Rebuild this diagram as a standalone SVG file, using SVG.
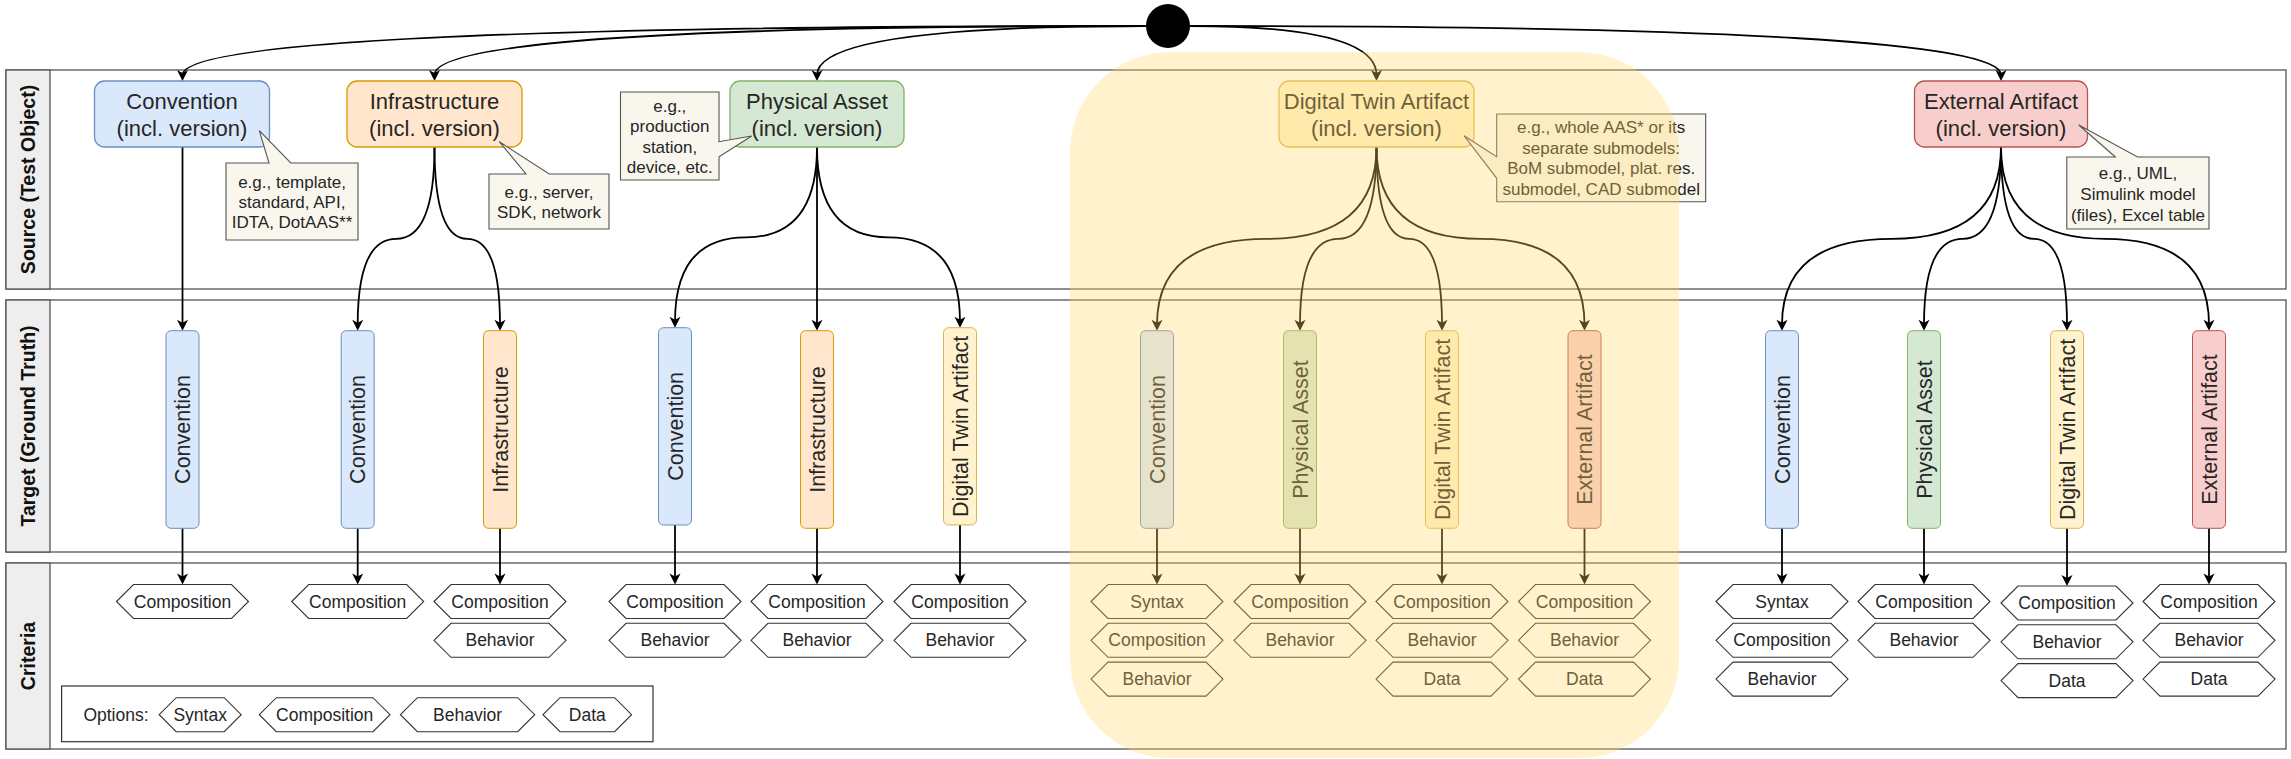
<svg xmlns="http://www.w3.org/2000/svg" xmlns:xlink="http://www.w3.org/1999/xlink" width="2291" height="759" viewBox="0 0 2291 759">
<style>
text{font-family:"Liberation Sans",Arial,Helvetica,sans-serif;fill:#262626}
.lane{fill:none;stroke:#555;stroke-width:1.3}
.hdr{fill:#eeeeee;stroke:#555;stroke-width:1.3}
.ht{font-size:19.5px;font-weight:bold;text-anchor:middle;fill:#111}
.src{stroke-width:1.3}
.st{font-size:22px;text-anchor:middle}
.vt{font-size:21.5px;text-anchor:middle}
.cv{fill:#dae8fc;stroke:#6c8ebf}
.inf{fill:#ffe6cc;stroke:#d79b00}
.pa{fill:#d5e8d4;stroke:#82b366}
.dt{fill:#fff2cc;stroke:#d6b656}
.ea{fill:#f8cecc;stroke:#b85450}
.hex{fill:#ffffff;stroke:#333;stroke-width:1.1}
.cr{font-size:17.5px;text-anchor:middle}
.call{fill:#f9f7ed;stroke:#555;stroke-width:1.1}
.ct{font-size:17px;text-anchor:middle}
.e{fill:none;stroke:#000;stroke-width:1.8;marker-end:url(#arr)}
</style>
<defs>
<marker id="arr" markerUnits="userSpaceOnUse" markerWidth="13" markerHeight="13" viewBox="0 0 13 13" refX="6" refY="6.5" orient="auto">
<path d="M1,1 L12,6.5 L1,12 L4,6.5 Z" fill="#000"/>
</marker>
<polygon id="hx" points="-66,0 -49,-17 49,-17 66,0 49,17 -49,17"/>
</defs>

<g id="lanes">
<rect class="lane" x="6" y="70" width="2280" height="219"/>
<rect class="hdr" x="6" y="70" width="44" height="219"/>
<text class="ht" transform="translate(28,179.5) rotate(-90)" dy="0.35em">Source (Test Object)</text>
<rect class="lane" x="6" y="300" width="2280" height="252"/>
<rect class="hdr" x="6" y="300" width="44" height="252"/>
<text class="ht" transform="translate(28,426) rotate(-90)" dy="0.35em">Target (Ground Truth)</text>
<rect class="lane" x="6" y="563" width="2280" height="186"/>
<rect class="hdr" x="6" y="563" width="44" height="186"/>
<text class="ht" transform="translate(28,656) rotate(-90)" dy="0.35em">Criteria</text>
</g>

<g id="connectors">
<path class="e" d="M1146,26 Q182.5,26 182.5,75"/>
<path class="e" d="M1146,26 Q434.5,26 434.5,75"/>
<path class="e" d="M1146,26 Q817,26 817,75"/>
<path class="e" d="M1190,26 Q1376.5,26 1376.5,75"/>
<path class="e" d="M1190,26 Q2001,26 2001,75"/>

<path class="e" d="M182.5,147 L182.5,324.7"/>
<path class="e" d="M434.5,147 Q434.5,238.85 396.1,238.85 Q357.7,238.85 357.7,324.7"/>
<path class="e" d="M434.5,147 Q434.5,238.85 467.25,238.85 Q500,238.85 500,324.7"/>
<path class="e" d="M817,147 Q817,237.35 746,237.35 Q675,237.35 675,321.7"/>
<path class="e" d="M817,147 L817,324.7"/>
<path class="e" d="M817,147 Q817,237.35 888.5,237.35 Q960,237.35 960,321.7"/>
<path class="e" d="M1376.5,147 Q1376.5,238.85 1266.75,238.85 Q1157,238.85 1157,324.7"/>
<path class="e" d="M1376.5,147 Q1376.5,238.85 1338.25,238.85 Q1300,238.85 1300,324.7"/>
<path class="e" d="M1376.5,147 Q1376.5,238.85 1409.25,238.85 Q1442,238.85 1442,324.7"/>
<path class="e" d="M1376.5,147 Q1376.5,238.85 1480.5,238.85 Q1584.5,238.85 1584.5,324.7"/>
<path class="e" d="M2001,147 Q2001,238.85 1891.5,238.85 Q1782,238.85 1782,324.7"/>
<path class="e" d="M2001,147 Q2001,238.85 1962.5,238.85 Q1924,238.85 1924,324.7"/>
<path class="e" d="M2001,147 Q2001,238.85 2034,238.85 Q2067,238.85 2067,324.7"/>
<path class="e" d="M2001,147 Q2001,238.85 2105,238.85 Q2209,238.85 2209,324.7"/>

<path class="e" d="M182.5,528.3 L182.5,578.5"/>
<path class="e" d="M357.7,528.3 L357.7,578.5"/>
<path class="e" d="M500,528.3 L500,578.5"/>
<path class="e" d="M675,525 L675,578.5"/>
<path class="e" d="M817,528.3 L817,578.5"/>
<path class="e" d="M960,525 L960,578.5"/>
<path class="e" d="M1157,528.3 L1157,578.5"/>
<path class="e" d="M1300,528.3 L1300,578.5"/>
<path class="e" d="M1442,528.3 L1442,578.5"/>
<path class="e" d="M1584.5,528.3 L1584.5,578.5"/>
<path class="e" d="M1782,528.3 L1782,578.5"/>
<path class="e" d="M1924,528.3 L1924,578.5"/>
<path class="e" d="M2067,528.3 L2067,580"/>
<path class="e" d="M2209,528.3 L2209,578.5"/>
</g>

<g id="start">
<circle cx="1168" cy="26" r="22" fill="#000"/>
</g>

<g id="src-convention">
<rect class="src cv" x="94.5" y="81" width="175" height="66" rx="10"/>
<text class="st" x="182" y="109.4">Convention</text>
<text class="st" x="182" y="136">(incl. version)</text>
</g>
<g id="src-infrastructure">
<rect class="src inf" x="347" y="81" width="175" height="66" rx="10"/>
<text class="st" x="434.5" y="109.4">Infrastructure</text>
<text class="st" x="434.5" y="136">(incl. version)</text>
</g>
<g id="src-physical-asset">
<rect class="src pa" x="730" y="81" width="174" height="66" rx="10"/>
<text class="st" x="817" y="109.4">Physical Asset</text>
<text class="st" x="817" y="136">(incl. version)</text>
</g>
<g id="src-dt-artifact">
<rect class="src dt" x="1279" y="81" width="195" height="66" rx="10"/>
<text class="st" x="1376.5" y="109.4">Digital Twin Artifact</text>
<text class="st" x="1376.5" y="136">(incl. version)</text>
</g>
<g id="src-external-artifact">
<rect class="src ea" x="1914.5" y="81" width="173" height="66" rx="10"/>
<text class="st" x="2001" y="109.4">External Artifact</text>
<text class="st" x="2001" y="136">(incl. version)</text>
</g>

<g id="note-convention">
<polygon class="call" points="226,163 269,163 259.3,130.7 290.8,163 358,163 358,240 226,240"/>
<text class="ct" x="292" y="187.7">e.g., template,</text>
<text class="ct" x="292" y="207.7">standard, API,</text>
<text class="ct" x="292" y="227.7">IDTA, DotAAS**</text>
</g>
<g id="note-infrastructure">
<polygon class="call" points="489,174 526,174 499.3,141.7 549.2,174 609,174 609,229 489,229"/>
<text class="ct" x="549" y="197.7">e.g., server,</text>
<text class="ct" x="549" y="218.3">SDK, network</text>
</g>
<g id="note-physical-asset">
<polygon class="call" points="620.5,92 719,92 719,141.7 751.7,136 719,156.7 719,180 620.5,180"/>
<text class="ct" x="669.8" y="111.5">e.g.,</text>
<text class="ct" x="669.8" y="132">production</text>
<text class="ct" x="669.8" y="152.5">station,</text>
<text class="ct" x="669.8" y="173">device, etc.</text>
</g>
<g id="note-dt-artifact">
<polygon class="call" points="1496.7,114 1705.7,114 1705.7,201.7 1496.7,201.7 1496.7,178.3 1464,135.7 1496.7,156.7"/>
<text class="ct" x="1601.2" y="133.2">e.g., whole AAS* or its</text>
<text class="ct" x="1601.2" y="153.7">separate submodels:</text>
<text class="ct" x="1601.2" y="174.2">BoM submodel, plat. res.</text>
<text class="ct" x="1601.2" y="194.7">submodel, CAD submodel</text>
</g>
<g id="note-external-artifact">
<polygon class="call" points="2066.8,157 2115.4,157 2078.8,125 2137.6,157 2209,157 2209,229 2066.8,229"/>
<text class="ct" x="2138" y="179.3">e.g., UML,</text>
<text class="ct" x="2138" y="200">Simulink model</text>
<text class="ct" x="2138" y="220.7">(files), Excel table</text>
</g>

<g id="tgt-1-convention">
<rect class="cv" x="166" y="330.7" width="33" height="197.6" rx="5"/>
<text class="vt" transform="translate(182.5,429.5) rotate(-90)" dy="0.35em">Convention</text>
</g>
<g id="tgt-2-convention">
<rect class="cv" x="341.2" y="330.7" width="33" height="197.6" rx="5"/>
<text class="vt" transform="translate(357.7,429.5) rotate(-90)" dy="0.35em">Convention</text>
</g>
<g id="tgt-3-infrastructure">
<rect class="inf" x="483.5" y="330.7" width="33" height="197.6" rx="5"/>
<text class="vt" transform="translate(500,429.5) rotate(-90)" dy="0.35em">Infrastructure</text>
</g>
<g id="tgt-4-convention">
<rect class="cv" x="658.5" y="327.7" width="33" height="197.3" rx="5"/>
<text class="vt" transform="translate(675,426.3) rotate(-90)" dy="0.35em">Convention</text>
</g>
<g id="tgt-5-infrastructure">
<rect class="inf" x="800.5" y="330.7" width="33" height="197.6" rx="5"/>
<text class="vt" transform="translate(817,429.5) rotate(-90)" dy="0.35em">Infrastructure</text>
</g>
<g id="tgt-6-dt-artifact">
<rect class="dt" x="943.5" y="327.7" width="33" height="197.3" rx="5"/>
<text class="vt" transform="translate(960,426.3) rotate(-90)" dy="0.35em">Digital Twin Artifact</text>
</g>
<g id="tgt-7-convention">
<rect class="cv" x="1140.5" y="330.7" width="33" height="197.6" rx="5"/>
<text class="vt" transform="translate(1157,429.5) rotate(-90)" dy="0.35em">Convention</text>
</g>
<g id="tgt-8-physical-asset">
<rect class="pa" x="1283.5" y="330.7" width="33" height="197.6" rx="5"/>
<text class="vt" transform="translate(1300,429.5) rotate(-90)" dy="0.35em">Physical Asset</text>
</g>
<g id="tgt-9-dt-artifact">
<rect class="dt" x="1425.5" y="330.7" width="33" height="197.6" rx="5"/>
<text class="vt" transform="translate(1442,429.5) rotate(-90)" dy="0.35em">Digital Twin Artifact</text>
</g>
<g id="tgt-10-external-artifact">
<rect class="ea" x="1568" y="330.7" width="33" height="197.6" rx="5"/>
<text class="vt" transform="translate(1584.5,429.5) rotate(-90)" dy="0.35em">External Artifact</text>
</g>
<g id="tgt-11-convention">
<rect class="cv" x="1765.5" y="330.7" width="33" height="197.6" rx="5"/>
<text class="vt" transform="translate(1782,429.5) rotate(-90)" dy="0.35em">Convention</text>
</g>
<g id="tgt-12-physical-asset">
<rect class="pa" x="1907.5" y="330.7" width="33" height="197.6" rx="5"/>
<text class="vt" transform="translate(1924,429.5) rotate(-90)" dy="0.35em">Physical Asset</text>
</g>
<g id="tgt-13-dt-artifact">
<rect class="dt" x="2050.5" y="330.7" width="33" height="197.6" rx="5"/>
<text class="vt" transform="translate(2067,429.5) rotate(-90)" dy="0.35em">Digital Twin Artifact</text>
</g>
<g id="tgt-14-external-artifact">
<rect class="ea" x="2192.5" y="330.7" width="33" height="197.6" rx="5"/>
<text class="vt" transform="translate(2209,429.5) rotate(-90)" dy="0.35em">External Artifact</text>
</g>

<g id="crit-1">
<use href="#hx" class="hex" x="182.5" y="601.5"/><text class="cr" x="182.5" y="607.6">Composition</text>
</g>
<g id="crit-2">
<use href="#hx" class="hex" x="357.7" y="601.5"/><text class="cr" x="357.7" y="607.6">Composition</text>
</g>
<g id="crit-3">
<use href="#hx" class="hex" x="500" y="601.5"/><text class="cr" x="500" y="607.6">Composition</text>
<use href="#hx" class="hex" x="500" y="640.3"/><text class="cr" x="500" y="646.4">Behavior</text>
</g>
<g id="crit-4">
<use href="#hx" class="hex" x="675" y="601.5"/><text class="cr" x="675" y="607.6">Composition</text>
<use href="#hx" class="hex" x="675" y="640.3"/><text class="cr" x="675" y="646.4">Behavior</text>
</g>
<g id="crit-5">
<use href="#hx" class="hex" x="817" y="601.5"/><text class="cr" x="817" y="607.6">Composition</text>
<use href="#hx" class="hex" x="817" y="640.3"/><text class="cr" x="817" y="646.4">Behavior</text>
</g>
<g id="crit-6">
<use href="#hx" class="hex" x="960" y="601.5"/><text class="cr" x="960" y="607.6">Composition</text>
<use href="#hx" class="hex" x="960" y="640.3"/><text class="cr" x="960" y="646.4">Behavior</text>
</g>
<g id="crit-7">
<use href="#hx" class="hex" x="1157" y="601.5"/><text class="cr" x="1157" y="607.6">Syntax</text>
<use href="#hx" class="hex" x="1157" y="640.3"/><text class="cr" x="1157" y="646.4">Composition</text>
<use href="#hx" class="hex" x="1157" y="679.1"/><text class="cr" x="1157" y="685.2">Behavior</text>
</g>
<g id="crit-8">
<use href="#hx" class="hex" x="1300" y="601.5"/><text class="cr" x="1300" y="607.6">Composition</text>
<use href="#hx" class="hex" x="1300" y="640.3"/><text class="cr" x="1300" y="646.4">Behavior</text>
</g>
<g id="crit-9">
<use href="#hx" class="hex" x="1442" y="601.5"/><text class="cr" x="1442" y="607.6">Composition</text>
<use href="#hx" class="hex" x="1442" y="640.3"/><text class="cr" x="1442" y="646.4">Behavior</text>
<use href="#hx" class="hex" x="1442" y="679.1"/><text class="cr" x="1442" y="685.2">Data</text>
</g>
<g id="crit-10">
<use href="#hx" class="hex" x="1584.5" y="601.5"/><text class="cr" x="1584.5" y="607.6">Composition</text>
<use href="#hx" class="hex" x="1584.5" y="640.3"/><text class="cr" x="1584.5" y="646.4">Behavior</text>
<use href="#hx" class="hex" x="1584.5" y="679.1"/><text class="cr" x="1584.5" y="685.2">Data</text>
</g>
<g id="crit-11">
<use href="#hx" class="hex" x="1782" y="601.5"/><text class="cr" x="1782" y="607.6">Syntax</text>
<use href="#hx" class="hex" x="1782" y="640.3"/><text class="cr" x="1782" y="646.4">Composition</text>
<use href="#hx" class="hex" x="1782" y="679.1"/><text class="cr" x="1782" y="685.2">Behavior</text>
</g>
<g id="crit-12">
<use href="#hx" class="hex" x="1924" y="601.5"/><text class="cr" x="1924" y="607.6">Composition</text>
<use href="#hx" class="hex" x="1924" y="640.3"/><text class="cr" x="1924" y="646.4">Behavior</text>
</g>
<g id="crit-13">
<use href="#hx" class="hex" x="2067" y="603"/><text class="cr" x="2067" y="609.1">Composition</text>
<use href="#hx" class="hex" x="2067" y="641.8"/><text class="cr" x="2067" y="647.9">Behavior</text>
<use href="#hx" class="hex" x="2067" y="680.6"/><text class="cr" x="2067" y="686.7">Data</text>
</g>
<g id="crit-14">
<use href="#hx" class="hex" x="2209" y="601.5"/><text class="cr" x="2209" y="607.6">Composition</text>
<use href="#hx" class="hex" x="2209" y="640.3"/><text class="cr" x="2209" y="646.4">Behavior</text>
<use href="#hx" class="hex" x="2209" y="679.1"/><text class="cr" x="2209" y="685.2">Data</text>
</g>

<g id="options-legend">
<rect x="61.6" y="686" width="591.4" height="55.7" fill="#fff" stroke="#333" stroke-width="1.2"/>
<text x="83.4" y="720.8" style="font-size:17.5px">Options:</text>
<polygon class="hex" points="159.2,714.7 176.2,697.7 224.2,697.7 241.2,714.7 224.2,731.7 176.2,731.7"/>
<text class="cr" x="200.2" y="720.8">Syntax</text>
<polygon class="hex" points="259.3,714.7 276.3,697.7 373,697.7 390,714.7 373,731.7 276.3,731.7"/>
<text class="cr" x="324.7" y="720.8">Composition</text>
<polygon class="hex" points="400.4,714.7 417.4,697.7 517.7,697.7 534.7,714.7 517.7,731.7 417.4,731.7"/>
<text class="cr" x="467.6" y="720.8">Behavior</text>
<polygon class="hex" points="543,714.7 560,697.7 614.6,697.7 631.6,714.7 614.6,731.7 560,731.7"/>
<text class="cr" x="587.3" y="720.8">Data</text>
</g>

<g id="dt-highlight">
<rect x="1070" y="52" width="609" height="706" rx="100" ry="100" fill="#ffd966" opacity="0.33"/>
</g>
</svg>
